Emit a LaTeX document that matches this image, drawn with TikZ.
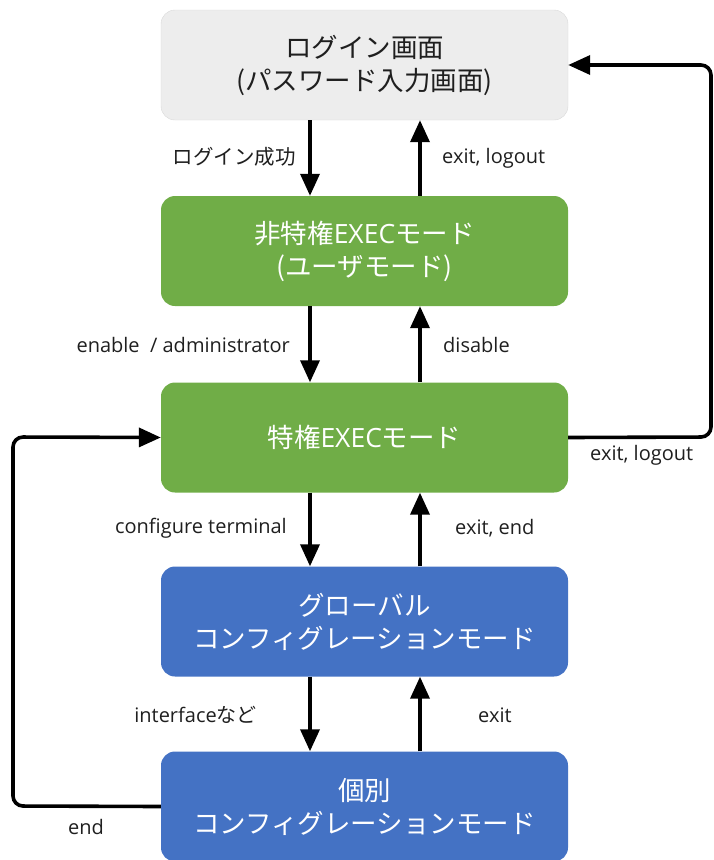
\documentclass[tikz,border=0pt]{standalone}
\usepackage{fontspec}
\setmainfont{Noto Sans CJK JP}
\newfontfamily\latin{Open Sans}
\usetikzlibrary{arrows.meta}
\definecolor{boxgray}{HTML}{EDEDED}
\definecolor{boxline}{HTML}{D9D9D9}
\definecolor{boxgreen}{HTML}{70AD47}
\definecolor{boxblue}{HTML}{4472C4}
\definecolor{labeltext}{HTML}{1F1F1F}

\begin{document}
\begin{tikzpicture}[x=1pt,y=-1pt]
		\tikzstyle{mode}=[rounded corners=14pt, minimum width=407pt, minimum height=110pt, align=center, font=\fontsize{26.5}{33}\selectfont, inner sep=0pt]
		\tikzstyle{lbl}=[text=labeltext, font=\latin\fontsize{20}{24}\selectfont, inner sep=0pt]
		\tikzstyle{arr}=[line width=3.6pt, -{Triangle[width=19pt,length=22pt]}]
		\useasboundingbox (0,0) rectangle (714,860);
		
		\node [mode, fill=boxgray, draw=boxline, text=labeltext] (login) at (364.5,65) {ログイン画面\\(パスワード入力画面)};
		\node [mode, fill=boxgreen, text=white] (user) at (364.5,251) {非特権{\latin EXEC}モード\\(ユーザモード)};
		\node [mode, fill=boxgreen, text=white] (priv) at (364.5,437.5) {特権{\latin EXEC}モード};
		\node [mode, fill=boxblue, text=white] (global) at (364.5,621.5) {グローバル\\コンフィグレーションモード};
		\node [mode, fill=boxblue, text=white] (iface) at (364.5,806.5) {個別\\コンフィグレーションモード};
		
		\coordinate (dn) at (310,0);
		\coordinate (up) at (420,0);
		\coordinate (rtop) at (711,65);
		\coordinate (rbot) at (711,437);
		\coordinate (ltop) at (13,437);
		\coordinate (lbot) at (13,806);
		
		% down / up pairs
		\draw [arr] (login.south -| dn) -- (user.north -| dn);
		\draw [arr] (user.north -| up) -- (login.south -| up);
		\draw [arr] (user.south -| dn) -- (priv.north -| dn);
		\draw [arr] (priv.north -| up) -- (user.south -| up);
		\draw [arr] (priv.south -| dn) -- (global.north -| dn);
		\draw [arr] (global.north -| up) -- (priv.south -| up);
		\draw [arr] (global.south -| dn) -- (iface.north -| dn);
		\draw [arr] (iface.north -| up) -- (global.south -| up);
		
		% loops
		\draw [arr, rounded corners=10pt] (priv.east) -- (rbot) -- (rtop) -- (login.east);
		\draw [arr, rounded corners=10pt] (iface.west) -- (lbot) -- (ltop) -- (priv.west);
		
		\node [lbl, anchor=east, font=\fontsize{20.5}{24}\selectfont] at (296,157) {ログイン成功};
		\node [lbl, anchor=west] at (442,158) {exit, logout};
		\node [lbl, anchor=east] at (290,345) {enable~ / administrator};
		\node [lbl, anchor=west] at (443,345) {disable};
		\node [lbl, anchor=west] at (590,455) {exit, logout};
		\node [lbl, anchor=east] at (287,528) {configure terminal};
		\node [lbl, anchor=west] at (455,528) {exit, end};
		\node [lbl, anchor=east] at (257,715) {interface{\fontspec{Noto Sans CJK JP}など}};
		\node [lbl, anchor=west] at (478,715) {exit};
		\node [lbl, anchor=west] at (68,827) {end};
		
		\end{tikzpicture}
\end{document}
